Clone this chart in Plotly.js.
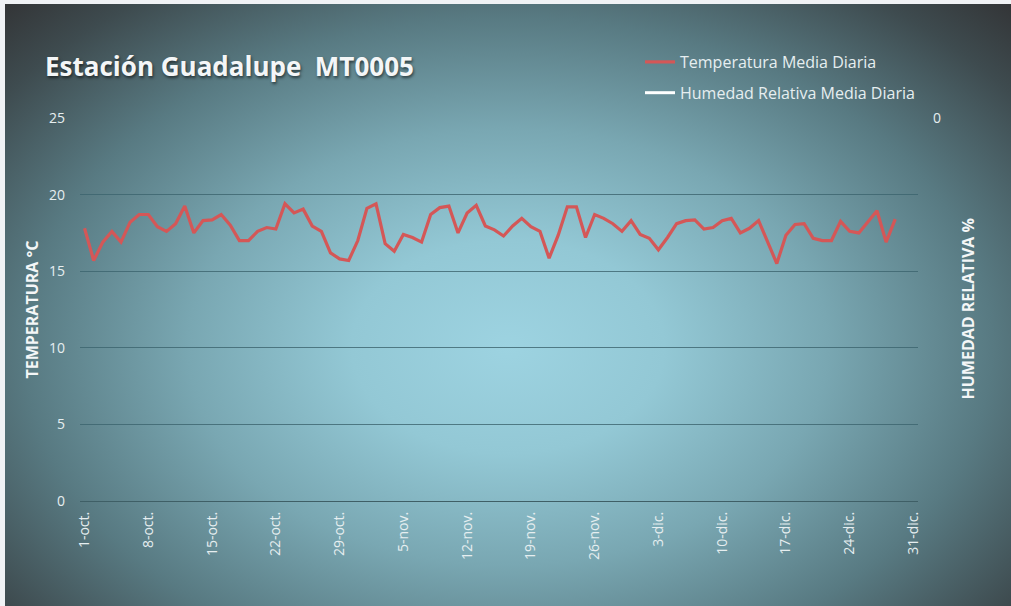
<!DOCTYPE html>
<html>
<head>
<meta charset="utf-8">
<script src="https://cdn.plot.ly/plotly-3.0.1.min.js"></script>
<style>
  html, body { margin: 0; padding: 0; background: #f0f2f5; width: 1011px; height: 606px; overflow: hidden; }
  #bg { position: absolute; left: 5px; top: 4px; width: 1006px; height: 602px;
        background: radial-gradient(ellipse farthest-corner at 50% 57%, #9dd3e1 0%, #93c8d5 22%, #79a7b2 45%, #587a82 68%, #3e4b4f 88%, #333537 100%); }
  #chart { position: absolute; left: 0; top: 0; width: 1011px; height: 606px; }
</style>
</head>
<body>
<div id="bg"></div>
<div id="chart"></div>
<script>
// Daily mean temperature (°C), 1-oct to 29-dic
const startDate = '2023-10-01';
const temperatura = [
  // October
  17.8, 15.7, 16.9, 17.6, 16.9, 18.2, 18.7, 18.7, 17.9, 17.6,
  18.1, 19.25, 17.5, 18.3, 18.35, 18.7, 18.0, 17.0, 17.0, 17.6,
  17.85, 17.75, 19.4, 18.8, 19.05, 17.95, 17.6, 16.2, 15.8, 15.7, 17.0,
  // November
  19.1, 19.4, 16.8, 16.3, 17.4, 17.2, 16.9, 18.7, 19.15, 19.25,
  17.5, 18.8, 19.3, 17.95, 17.7, 17.3, 17.95, 18.45, 17.9, 17.6,
  15.85, 17.35, 19.2, 19.2, 17.2, 18.7, 18.45, 18.1, 17.6, 18.3,
  // December
  17.4, 17.15, 16.4, 17.2, 18.1, 18.3, 18.35, 17.75, 17.85, 18.3,
  18.45, 17.5, 17.8, 18.3, 16.9, 15.5, 17.35, 18.05, 18.1, 17.15,
  17.0, 17.0, 18.25, 17.6, 17.5, 18.25, 18.95, 16.9, 18.4
];
// No humidity values are drawn in the reference (series is empty)
const humedad = [null];

const tickDates = ['2023-10-01','2023-10-08','2023-10-15','2023-10-22','2023-10-29',
  '2023-11-05','2023-11-12','2023-11-19','2023-11-26','2023-12-03','2023-12-10',
  '2023-12-17','2023-12-24','2023-12-31'];
const tickLabels = ['1-oct.','8-oct.','15-oct.','22-oct.','29-oct.','5-nov.','12-nov.',
  '19-nov.','26-nov.','3-dic.','10-dic.','17-dic.','24-dic.','31-dic.'];
const yTicks = [0, 5, 10, 15, 20, 25];
const y2Ticks = [0];

function dayList(start, n) {
  const out = [];
  const d0 = new Date(start + 'T00:00:00Z');
  for (let i = 0; i < n; i++) {
    const d = new Date(d0.getTime() + i * 86400000);
    out.push(d.toISOString().slice(0, 10));
  }
  return out;
}
const fechas = dayList(startDate, temperatura.length);

const txt = '#e6eef0';
const font = 'Open Sans, Noto Sans, sans-serif';

const traces = [
  {
    x: fechas, y: temperatura, type: 'scatter', mode: 'lines',
    name: 'Temperatura Media Diaria', legendgroup: 'a',
    line: { color: '#d45757', width: 3.2 }
  },
  {
    x: fechas.slice(0, humedad.length), y: humedad, type: 'scatter', mode: 'lines',
    name: 'Humedad Relativa Media Diaria', legendgroup: 'b', yaxis: 'y2',
    line: { color: '#ffffff', width: 3 }, showlegend: true
  }
];

const layout = {
  width: 1011, height: 606,
  paper_bgcolor: 'rgba(0,0,0,0)', plot_bgcolor: 'rgba(0,0,0,0)',
  margin: { l: 80, r: 93, t: 118, b: 105, autoexpand: false },
  font: { family: font, color: txt, size: 13 },
  title: {
    text: 'Estación Guadalupe\u00a0 MT0005',
    xref: 'container', yref: 'container', x: 45/1011, xanchor: 'left',
    y: 1 - 67/606, yanchor: 'middle',
    font: { family: font, size: 26, color: '#f4f6f7', weight: 'bold',
            shadow: '1px 2px 3px rgba(0,0,0,0.55)' }
  },
  showlegend: true,
  legend: {
    xref: 'container', yref: 'container', x: 640/1011, y: 1 - 45/606,
    xanchor: 'left', yanchor: 'top', bgcolor: 'rgba(0,0,0,0)',
    font: { family: font, size: 16, color: txt },
    traceorder: 'grouped', tracegroupgap: 7, itemwidth: 30
  },
  xaxis: {
    type: 'date',
    range: ['2023-09-30 12:00', '2023-12-31 12:00'],
    tickmode: 'array', tickvals: tickDates, ticktext: tickLabels,
    tickangle: -90, ticks: '', showgrid: false, zeroline: false,
    showline: true, linecolor: '#3f5f66', linewidth: 1.2,
    tickfont: { family: font, size: 14, color: txt },
    ticklabelstandoff: 4
  },
  yaxis: {
    range: [0, 25], tickmode: 'array', tickvals: yTicks,
    showgrid: true, gridcolor: 'rgba(60,100,110,0.8)', gridwidth: 1,
    zeroline: false, showline: false, ticks: '',
    ticklabelstandoff: 14,
    tickfont: { family: font, size: 14, color: txt },
    title: { text: 'TEMPERATURA °C', standoff: 6,
             font: { family: font, size: 16, color: '#f4f6f7', weight: 'bold' } }
  },
  yaxis2: {
    overlaying: 'y', side: 'right', range: [-25, 0],
    tickmode: 'array', tickvals: y2Ticks, showgrid: false, zeroline: false,
    showline: false, ticks: '', ticklabelstandoff: 14,
    tickfont: { family: font, size: 14, color: txt }
  },
  annotations: [{
    text: 'HUMEDAD RELATIVA %', textangle: -90, showarrow: false,
    xref: 'paper', yref: 'paper', x: (967 - 80) / 838, y: 0.5,
    xanchor: 'center', yanchor: 'middle',
    font: { family: font, size: 16, color: '#f4f6f7', weight: 'bold' }
  }]
};

Plotly.newPlot('chart', traces, layout, { displayModeBar: false, staticPlot: true });
</script>
</body>
</html>
